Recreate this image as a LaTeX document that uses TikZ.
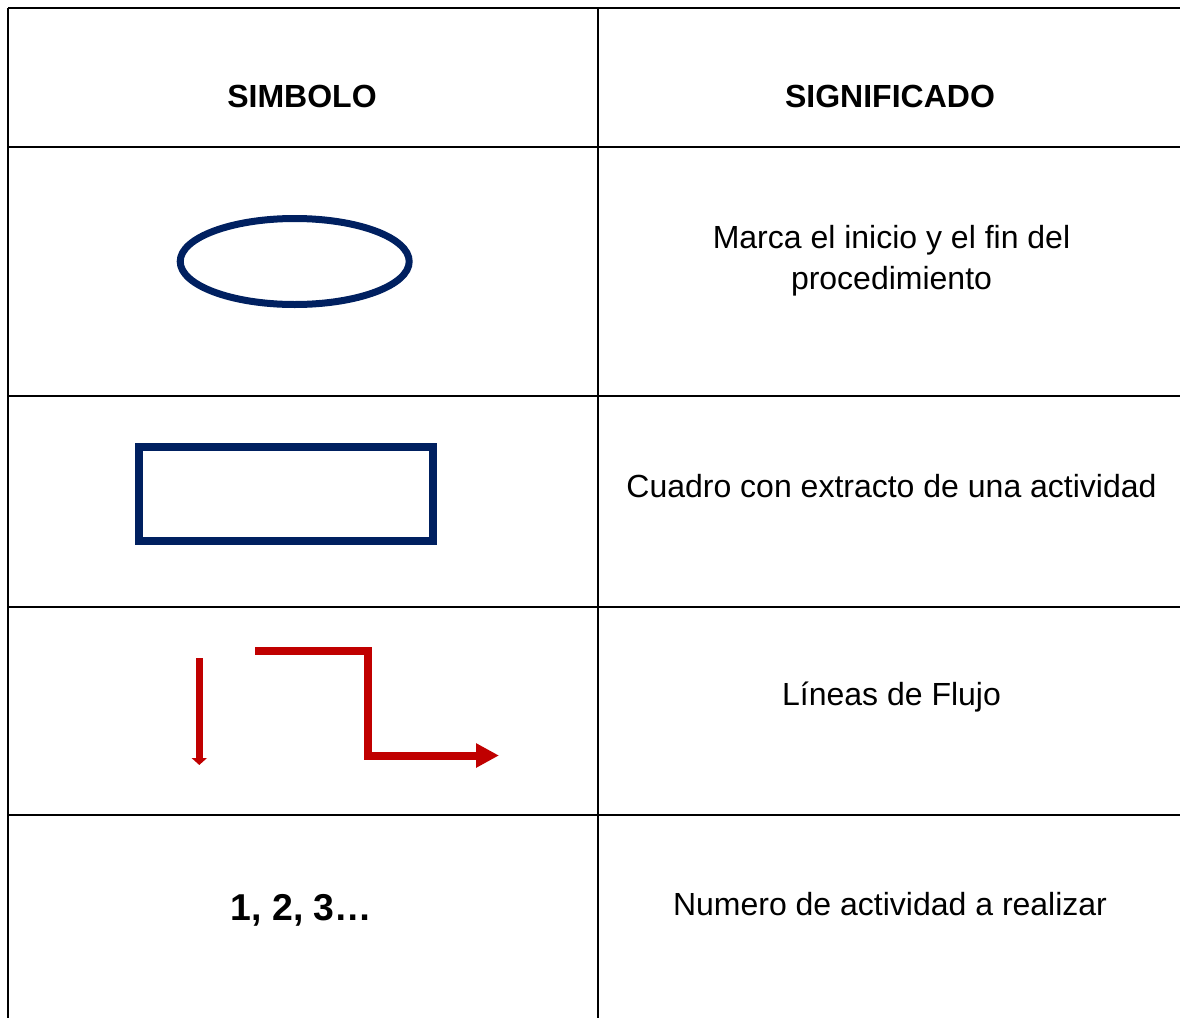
\documentclass[tikz,border=0pt]{standalone}
\usepackage{fontspec}
\setmainfont{Liberation Sans}
\usepackage{tikz}
\usetikzlibrary{arrows.meta}
\definecolor{symcol}{RGB}{0,32,96}
\definecolor{flowcol}{RGB}{192,0,0}

\begin{document}
\begin{tikzpicture}[x=0.5pt, y=-0.5pt,
    txt/.style={font=\fontsize{16}{20.5}\selectfont, inner sep=0pt, align=center}]
    \useasboundingbox (0,0) rectangle (1180,1018);

    % table grid
    \draw[line width=1.1pt] (8,8) -- (1180,8);
    \foreach \y in {147,396,607,815}
        \draw[line width=1.1pt] (8,\y) -- (1180,\y);
    \draw[line width=1.1pt] (8,7.5) -- (8,1018);
    \draw[line width=1.1pt] (598,8) -- (598,1018);

    % header
    \node[txt, anchor=base] (simbolo) at (302,107) {\textbf{SIMBOLO}};
    \node[txt, anchor=base] (significado) at (890,107) {\textbf{SIGNIFICADO}};

    % symbols
    \draw[symcol, line width=3.5pt] (294.7,261.5) ellipse [x radius=57.25pt, y radius=21.5pt];
    \draw[symcol, line width=4pt] (139,447.3) rectangle (432.7,541);
    \draw[flowcol, line width=3.6pt, -{Triangle[length=3.5pt, width=7.5pt]}] (199.3,658) -- (199.3,765);
    \draw[flowcol, line width=4pt, miter limit=10, -{Triangle[length=11.5pt, width=11.5pt]}] (255,651) -- (368,651) -- (368,755.5) -- (499,755.5);
    \node[txt, anchor=base, font=\fontsize{18.7}{22}\selectfont] (numeros) at (301.5,920) {\textbf{1, 2, 3…}};

    % meanings
    \node[txt] (inicio) at (891.5,260.5) {Marca el inicio y el fin del\\procedimiento};
    \node[txt, anchor=base] (cuadro) at (891.5,497) {Cuadro con extracto de una actividad};
    \node[txt, anchor=base] (flujo) at (891.5,705.5) {Líneas de Flujo};
    \node[txt, anchor=base] (actividad) at (890,915.5) {Numero de actividad a realizar};

\end{tikzpicture}
\end{document}
